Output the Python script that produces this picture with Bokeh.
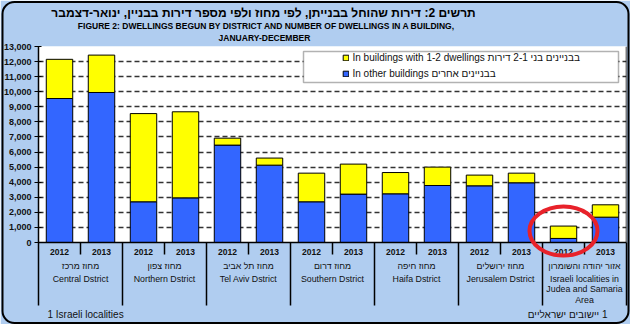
from bokeh.plotting import figure
from bokeh.models import (ColumnDataSource, FixedTicker, Range1d, Span, Quad,
                          BoxAnnotation, Legend, LegendItem, NumeralTickFormatter)
from bokeh.core.properties import value
from bokeh.embed import file_html
from bokeh.resources import INLINE

# ---------------- data ----------------
years = ["2012", "2013"]
districts_he = ["מחוז מרכז", "מחוז צפון", "מחוז תל אביב", "מחוז דרום",
                "מחוז חיפה", "מחוז ירושלים", "אזור יהודה והשומרון"]
districts_en = [["Central Dstrict"], ["Northern Dstrict"], ["Tel Aviv Dstrict"],
                ["Southern Dstrict"], ["Haifa Dstrict"], ["Jerusalem Dstrict"],
                ["Israeli localities in", "Judea and Samaria", "Area"]]
# dwellings begun, in order district x year
other_buildings = [9550, 9950, 2700, 2960, 6460, 5130, 2700, 3210, 3230, 3780, 3760, 3960, 270, 1680]
small_buildings = [2600, 2480, 5850, 5710, 460, 470, 1900, 1990, 1410, 1220, 710, 640, 820, 820]
y_ticks = list(range(0, 13001, 1000))

title_he = "תרשים 2: דירות שהוחל בבנייתן, לפי מחוז ולפי מספר דירות בבניין, ינואר-דצמבר"
title_en1 = "FIGURE 2: DWELLINGS BEGUN BY DISTRICT AND NUMBER OF DWELLINGS IN A BUILDING,"
title_en2 = "JANUARY-DECEMBER"
legend_small = "In buildings with 1-2 dwellings בבניינים בני 2-1 דירות"
legend_other = "In other buildings בבניינים אחרים"
foot_en = "1 Israeli localities"
foot_he = "\u200F1 יישובים ישראליים"

# ---------------- layout helpers ----------------
W, H = 630, 324
FL, FR, FT, FB = 38, 626, 46, 242
NX = len(other_buildings)
YMAX = 13000
FONT = "Liberation Sans"
BG = "#b0cdf0"
INK = "#111111"


def px_x(px):
    return (px - FL) / (FR - FL) * NX


def px_y(py):
    return (FB - py) / (FB - FT) * YMAX


p = figure(width=W, height=H, output_backend="svg", toolbar_location=None, title=None,
           x_range=Range1d(0, NX), y_range=Range1d(0, YMAX),
           min_border_left=FL, min_border_right=W - FR, min_border_top=FT, min_border_bottom=H - FB)
p.background_fill_color = "white"
p.border_fill_color = BG
p.outline_line_color = None

xs = [i + 0.5 for i in range(NX)]
src = ColumnDataSource(dict(x=xs, other=other_buildings, small=small_buildings))
rs = p.vbar_stack(["other", "small"], x="x", width=0.63, source=src,
                  fill_color=["#3366ff", "#ffff00"], line_color="black", line_width=1)

# y axis
p.yaxis.ticker = FixedTicker(ticks=y_ticks)
p.yaxis.formatter = NumeralTickFormatter(format="0,0")
p.yaxis.major_label_text_font = FONT
p.yaxis.major_label_text_font_size = "9px"
p.yaxis.major_label_text_font_style = "bold"
p.yaxis.major_label_text_color = INK
p.yaxis.major_tick_in = 3
p.yaxis.major_tick_out = 4
p.yaxis.major_label_standoff = 3
p.yaxis.minor_tick_line_color = None
p.yaxis.axis_line_color = "black"
p.yaxis.axis_line_width = 1.5
p.yaxis.major_tick_line_width = 1.2

# x axis: long group separators
p.xaxis.ticker = FixedTicker(ticks=list(range(0, NX + 1, 2)))
p.xaxis.major_label_text_color = None
p.xaxis.major_tick_in = 0
p.xaxis.major_tick_out = 63
p.xaxis.minor_tick_line_color = None
p.xaxis.major_tick_line_width = 1.5
p.xaxis.axis_line_width = 1.5
p.xaxis.axis_line_color = "black"

p.xgrid.visible = False
p.ygrid.ticker = FixedTicker(ticks=y_ticks)
p.ygrid.grid_line_color = "#333333"
p.ygrid.grid_line_dash = "5 3"
p.ygrid.grid_line_width = 1.5

p.add_layout(Span(location=NX, dimension="height", line_color="black", line_width=1.5))

# short year separators inside each district
mids = list(range(1, NX, 2))
sep = p.segment(x0=mids, y0=[0] * len(mids), x1=mids, y1=[px_y(254)] * len(mids),
                line_color="black", line_width=1.5)
sep.level = "overlay"


def texts(xv, yv, tv, size, style="normal", align="center", color=INK):
    r = p.text(x=xv, y=yv, text=tv, text_align=align, text_baseline="middle",
               text_font=value(FONT), text_font_size=value(size), text_font_style=style,
               text_color=color)
    r.level = "overlay"
    return r


# year labels
texts(xs, [px_y(251)] * NX, [years[i % 2] for i in range(NX)], "8.5px", "bold")

# district labels
lx, ly, lt = [], [], []
for i, (he, en) in enumerate(zip(districts_he, districts_en)):
    cx = 2 * i + 1
    lx.append(cx); ly.append(px_y(265)); lt.append(he)
    for k, line in enumerate(en):
        lx.append(cx); ly.append(px_y(278 + 10.5 * k)); lt.append(line)
texts(lx, ly, lt, "8.8px")

# footnotes
texts([px_x(47)], [px_y(314)], [foot_en], "10px", align="left")
texts([px_x(607)], [px_y(314)], [foot_he], "10px", align="right")

# titles
texts([px_x(263)], [px_y(12)], [title_he], "12px", "bold", color="black")
texts([px_x(266)], [px_y(25)], [title_en1], "8.5px", "bold", color="black")
texts([px_x(264)], [px_y(37.5)], [title_en2], "8.5px", "bold", color="black")

# legend box + legend
p.add_layout(BoxAnnotation(left=px_x(303), right=px_x(618), top=px_y(51), bottom=px_y(82),
                           fill_color="white", fill_alpha=1, line_color="black", line_width=1.5))
legend = Legend(items=[LegendItem(label=legend_small, renderers=[rs[1]]),
                       LegendItem(label=legend_other, renderers=[rs[0]])],
                location=(303.5, 163), border_line_color=None, background_fill_alpha=0,
                padding=0, margin=0, spacing=4, glyph_width=7, glyph_height=7, label_height=12,
                label_standoff=4, label_text_font=FONT, label_text_font_size="10px",
                label_text_color=INK)
p.add_layout(legend)

# red highlight ring around Judea & Samaria 2012
ell = p.ellipse(x=[xs[12]], y=[px_y(230.5)], width=68, height=49, width_units="screen",
                height_units="screen", fill_color=None, line_color="#e8222a", line_width=4)
ell.level = "overlay"

# outer rounded frame
if "border_radius" in Quad.properties():
    fr = p.quad(left=[px_x(2)], right=[px_x(628)], top=[px_y(1.5)], bottom=[px_y(322.5)],
                fill_color=None, line_color="black", line_width=2, border_radius=12)
else:
    fr = p.quad(left=[px_x(2)], right=[px_x(628)], top=[px_y(1.5)], bottom=[px_y(322.5)],
                fill_color=None, line_color="black", line_width=2)
fr.level = "overlay"

open("out.html", "w").write(file_html(p, INLINE))
